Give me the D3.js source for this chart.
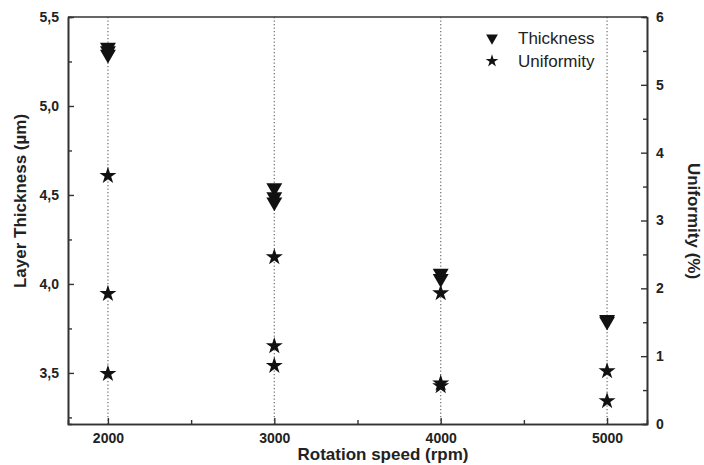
<!DOCTYPE html>
<html>
<head>
<meta charset="utf-8">
<script src="https://cdn.jsdelivr.net/npm/d3@7"></script>
<style>
  body { margin: 0; background: #fff; }
  text { font-family: "Liberation Sans", Arial, sans-serif; fill: #222; }
</style>
</head>
<body>
<svg width="704" height="465"></svg>
<script>
// data
var speeds = [2000, 3000, 4000, 5000];
var thickSpeed = [2000, 2000, 2000, 3000, 3000, 3000, 4000, 4000, 5000, 5000];
var thickVal   = [5.33, 5.31, 5.29, 4.54, 4.49, 4.46, 4.06, 4.03, 3.80, 3.79];
var unifSpeed  = [2000, 2000, 2000, 3000, 3000, 3000, 4000, 4000, 4000, 5000, 5000];
var unifVal    = [3.66, 1.92, 0.74, 2.46, 1.15, 0.86, 1.93, 0.60, 0.56, 0.78, 0.34];
var leftTicks  = [3.5, 4.0, 4.5, 5.0, 5.5];
var rightTicks = [0, 1, 2, 3, 4, 5, 6];

var svg = d3.select("svg");
var pL = 68, pR = 647, pT = 17, pB = 424;

var x = d3.scaleLinear().domain([1760, 5240]).range([pL, pR]);
var yL = d3.scaleLinear().domain([3.213, 5.5]).range([pB, pT]);
var yR = d3.scaleLinear().domain([0, 6]).range([pB, pT]);

var fmt = d => d3.format(".1f")(d).replace(".", ",");

// dotted guide lines
svg.append("g").selectAll("line")
    .data(speeds)
    .enter().append("line")
    .attr("x1", d => x(d)).attr("x2", d => x(d))
    .attr("y1", pT).attr("y2", pB)
    .attr("stroke", "#777")
    .attr("stroke-width", 1.3)
    .attr("stroke-dasharray", "1.3,2.2");

function styleAxis(g) {
    g.select(".domain").attr("stroke", "#333").attr("stroke-width", 1.6);
    g.selectAll(".tick line").attr("stroke", "#333").attr("stroke-width", 1.4);
    g.selectAll("text")
        .style("font-size", "14px")
        .style("font-weight", "bold")
        .attr("fill", "#222");
}

// minor ticks first
svg.append("g").attr("transform", "translate(" + pL + ",0)")
    .call(d3.axisRight(yL).tickValues([3.25, 3.75, 4.25, 4.75, 5.25]).tickSize(4).tickFormat(""))
    .call(styleAxis);
svg.append("g").attr("transform", "translate(" + pR + ",0)")
    .call(d3.axisLeft(yR).tickValues([0.5, 1.5, 2.5, 3.5, 4.5, 5.5]).tickSize(4).tickFormat(""))
    .call(styleAxis);
svg.append("g").attr("transform", "translate(0," + pB + ")")
    .call(d3.axisTop(x).tickValues([2500, 3500, 4500]).tickSize(4).tickFormat(""))
    .call(styleAxis);

// left axis
svg.append("g").attr("transform", "translate(" + pL + ",0)")
    .call(d3.axisLeft(yL).tickValues(leftTicks).tickSizeInner(-6).tickSizeOuter(0).tickPadding(9).tickFormat(fmt))
    .call(styleAxis);

// right axis
svg.append("g").attr("transform", "translate(" + pR + ",0)")
    .call(d3.axisRight(yR).tickValues(rightTicks).tickSizeInner(-6).tickSizeOuter(0).tickPadding(9).tickFormat(d3.format("d")))
    .call(styleAxis);

// bottom axis
svg.append("g").attr("transform", "translate(0," + pB + ")")
    .call(d3.axisBottom(x).tickValues(speeds).tickSizeInner(-6).tickSizeOuter(0).tickPadding(9).tickFormat(d3.format("d")))
    .call(styleAxis);

// top frame
svg.append("line")
    .attr("x1", pL).attr("x2", pR).attr("y1", pT).attr("y2", pT)
    .attr("stroke", "#333").attr("stroke-width", 1.6);

// markers
var tri = d3.symbol().type(d3.symbolTriangle).size(110);
var star = d3.symbol().type(d3.symbolStar).size(90);

svg.append("g").selectAll("path")
    .data(thickVal)
    .enter().append("path")
    .attr("d", tri)
    .attr("transform", (d, i) => "translate(" + x(thickSpeed[i]) + "," + yL(d) + ") rotate(180)")
    .attr("fill", "#111");

svg.append("g").selectAll("path")
    .data(unifVal)
    .enter().append("path")
    .attr("d", star)
    .attr("transform", (d, i) => "translate(" + x(unifSpeed[i]) + "," + yR(d) + ")")
    .attr("fill", "#111");

// axis titles
svg.append("text")
    .attr("transform", "translate(26,201) rotate(-90)")
    .attr("text-anchor", "middle")
    .style("font-size", "17px").style("font-weight", "bold")
    .text("Layer Thickness (µm)");

svg.append("text")
    .attr("transform", "translate(688,221) rotate(90)")
    .attr("text-anchor", "middle")
    .style("font-size", "17px").style("font-weight", "bold")
    .text("Uniformity (%)");

svg.append("text")
    .attr("x", 383).attr("y", 460)
    .attr("text-anchor", "middle")
    .style("font-size", "17px").style("font-weight", "bold")
    .text("Rotation speed (rpm)");

// legend
var legend = [
    {name: "Thickness", sym: d3.symbol().type(d3.symbolTriangle).size(60), rot: 180},
    {name: "Uniformity", sym: d3.symbol().type(d3.symbolStar).size(50), rot: 0}
];
var lg = svg.append("g").selectAll("g")
    .data(legend)
    .enter().append("g")
    .attr("transform", (d, i) => "translate(492," + (38 + i * 23) + ")");
lg.append("path")
    .attr("d", d => d.sym())
    .attr("transform", d => "rotate(" + d.rot + ")")
    .attr("fill", "#111");
lg.append("text")
    .attr("x", 26).attr("dy", "0.35em")
    .style("font-size", "17px")
    .attr("fill", "#333")
    .text(d => d.name);
</script>
</body>
</html>
